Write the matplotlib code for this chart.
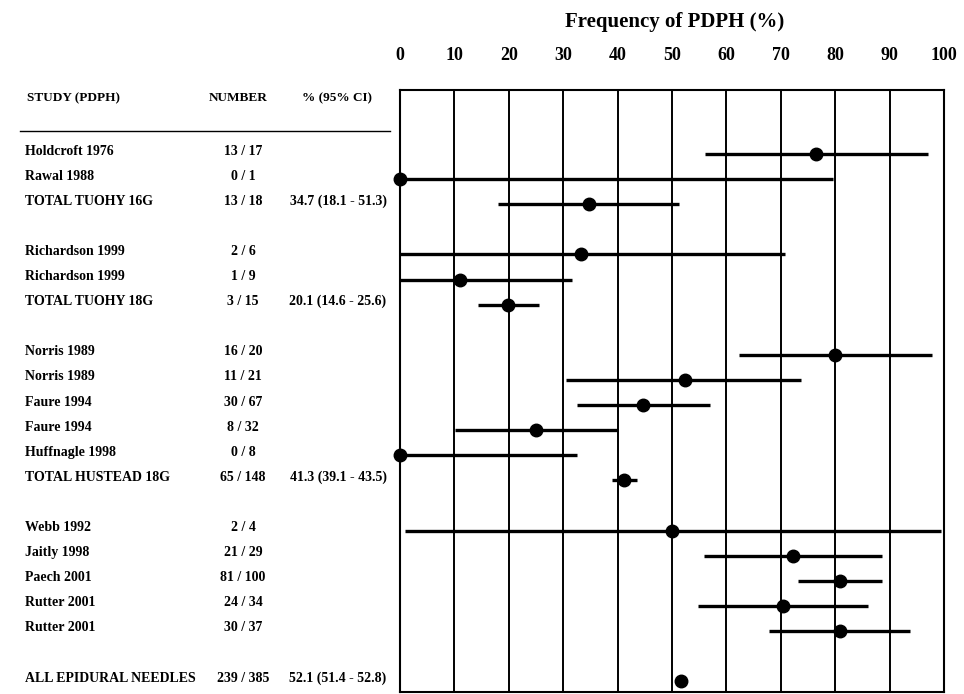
import numpy as np
import matplotlib.pyplot as plt
import matplotlib.transforms as mtransforms
from matplotlib.lines import Line2D

plt.rcParams['font.family'] = ['Liberation Serif', 'DejaVu Serif']
plt.rcParams['font.weight'] = 'bold'

# study rows (group = needle type, one blank row between groups)
studies = ["Holdcroft 1976", "Rawal 1988", "TOTAL TUOHY 16G",
           "Richardson 1999", "Richardson 1999", "TOTAL TUOHY 18G",
           "Norris 1989", "Norris 1989", "Faure 1994", "Faure 1994",
           "Huffnagle 1998", "TOTAL HUSTEAD 18G",
           "Webb 1992", "Jaitly 1998", "Paech 2001", "Rutter 2001", "Rutter 2001",
           "ALL EPIDURAL NEEDLES"]
groups = [0, 0, 0, 1, 1, 1, 2, 2, 2, 2, 2, 2, 3, 3, 3, 3, 3, 4]
numbers = ["13 / 17", "0 / 1", "13 / 18", "2 / 6", "1 / 9", "3 / 15",
           "16 / 20", "11 / 21", "30 / 67", "8 / 32", "0 / 8", "65 / 148",
           "2 / 4", "21 / 29", "81 / 100", "24 / 34", "30 / 37", "239 / 385"]
ci_text = ["", "", "34.7 (18.1 - 51.3)", "", "", "20.1 (14.6 - 25.6)",
           "", "", "", "", "", "41.3 (39.1 - 43.5)",
           "", "", "", "", "", "52.1 (51.4 - 52.8)"]

# values (%)
pct = [76.5, 0.0, 34.7, 33.3, 11.1, 19.9,
       80.0, 52.4, 44.7, 25.0, 0.0, 41.2,
       50.0, 72.3, 80.9, 70.4, 80.9, 51.7]
lo = [56.0, 0.0, 18.0, 0.0, 0.0, 14.3,
      62.3, 30.6, 32.6, 10.2, 0.0, 39.0,
      0.9, 55.8, 73.1, 54.8, 67.9, 51.4]
hi = [97.0, 79.6, 51.3, 70.8, 31.6, 25.5,
      97.8, 73.8, 57.0, 39.8, 32.6, 43.5,
      99.5, 88.6, 88.6, 86.1, 93.7, 52.8]

W, H = 964, 694
fig = plt.figure(figsize=(W / 100, H / 100), dpi=100)
ax = fig.add_axes([400 / W, 1 - 692 / H, 544 / W, 602 / H])

ypos = np.arange(len(studies)) + np.array(groups)

ax.hlines(ypos, lo, hi, color='black', linewidth=2.4, zorder=3)
ax.plot(pct, ypos, 'o', color='black', markersize=9, zorder=4, clip_on=False)

ax.set_xlim(0, 100)
ax.set_ylim(21.43, -2.55)
ax.xaxis.tick_top()
ax.set_xticks(np.arange(0, 101, 10))
ax.tick_params(axis='x', length=0, pad=19, labelsize=13)
ax.set_yticks([])
ax.grid(axis='x', color='black', linewidth=1.4)
ax.set_axisbelow(True)
for s in ax.spines.values():
    s.set_linewidth(1.5)

fig.text(675 / W, 1 - 22 / H, "Frequency of PDPH (%)", ha='center', va='center',
         fontsize=15, fontweight='bold')

# table on the left
hy = 1 - 98 / H
fig.text(27 / W, hy, "STUDY (PDPH)", ha='left', va='center', fontsize=9.5)
fig.text(238 / W, hy, "NUMBER", ha='center', va='center', fontsize=9.5)
fig.text(337 / W, hy, "% (95% CI)", ha='center', va='center', fontsize=9.5)
fig.add_artist(Line2D([20 / W, 390 / W], [1 - 131 / H] * 2, color='black', linewidth=1.0))

trans = mtransforms.blended_transform_factory(fig.transFigure, ax.transData)
for y, name, num, ci in zip(ypos, studies, numbers, ci_text):
    ty = y - 0.12
    ax.text(25 / W, ty, name, transform=trans, ha='left', va='center', fontsize=10)
    ax.text(243 / W, ty, num, transform=trans, ha='center', va='center', fontsize=10)
    if ci:
        ax.text(338 / W, ty, ci, transform=trans, ha='center', va='center', fontsize=10)

fig.savefig('out.png', dpi=100, facecolor='white')
